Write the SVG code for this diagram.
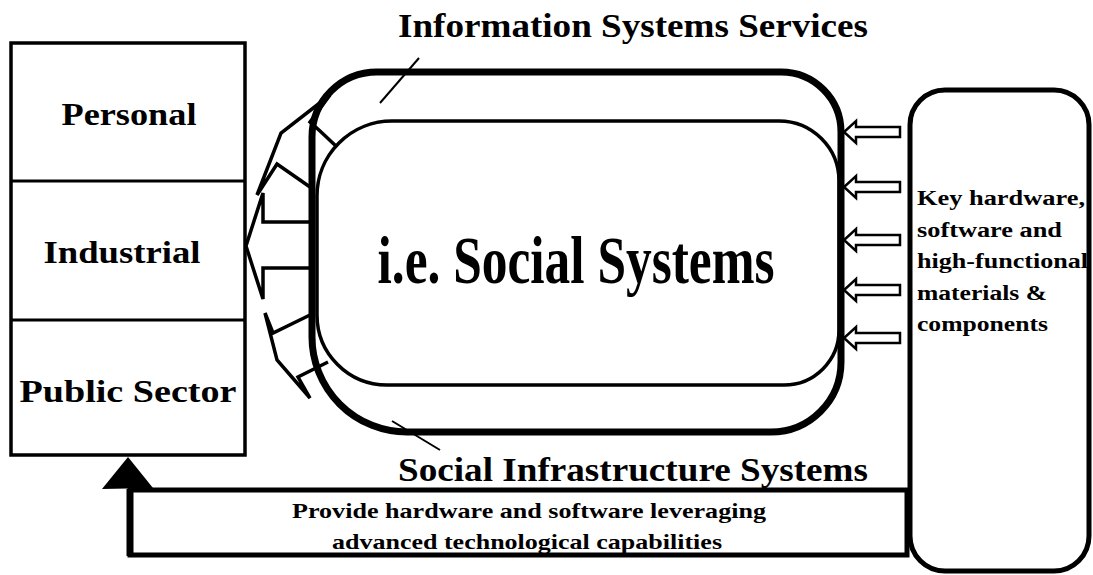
<svg xmlns="http://www.w3.org/2000/svg" width="1093" height="575" viewBox="0 0 1093 575">
  <style>
    text { font-family: "Liberation Serif", "Times New Roman", serif; font-weight: bold; fill: #000; }
    .ln { fill: none; stroke: #000; stroke-linejoin: miter; }
    .mid { text-anchor: middle; }
    .sector { font-size: 31px; }
    .title { font-size: 33px; }
    .key { font-size: 20px; }
    .note { font-size: 21px; }
  </style>
  <defs>
    <!-- small inbound block arrow, tip at origin pointing left -->
    <path id="inArrow" d="M56,-5 H12 V-11 L0,0 L12,11 V5 H56 Z" fill="#fff" stroke="#000" stroke-width="2.5"/>
  </defs>

  <rect width="1093" height="575" fill="#fff"/>

  <!-- connectors -->
  <g id="connectors">
    <!-- outbound fan of block arrows toward the sector column -->
    <polyline class="ln" stroke-width="3.5" points="310,222 263,222 263,193 246,246 263,299 263,268 310,268"/>
    <polyline class="ln" stroke-width="3.5" points="337,147 320,131 310,122 330,95 281,133 257,195 277,164 310,187"/>
    <polyline class="ln" stroke-width="3.5" points="310,315 273,333 265,313 277,360 310,398 298,377 328,362"/>
    <!-- inbound arrows from the key components column -->
    <use href="#inArrow" x="844" y="132"/>
    <use href="#inArrow" x="844" y="187"/>
    <use href="#inArrow" x="844" y="240"/>
    <use href="#inArrow" x="844" y="290"/>
    <use href="#inArrow" x="844" y="338"/>
    <!-- feedback loop to the sector column -->
    <rect class="ln" x="130" y="490" width="777" height="65" stroke-width="5"/>
    <line x1="130" y1="489" x2="130" y2="556" stroke="#000" stroke-width="7"/>
    <polygon points="128,457 102,489 153,488" fill="#000"/>
    <!-- label leaders -->
    <line x1="380" y1="103" x2="419" y2="58" stroke="#000" stroke-width="2"/>
    <line x1="392" y1="421" x2="440" y2="450" stroke="#000" stroke-width="2"/>
  </g>

  <!-- sector column -->
  <g id="sectors">
    <rect class="ln" x="11" y="43" width="234" height="412" stroke-width="3.5"/>
    <line x1="11" y1="181" x2="245" y2="181" stroke="#000" stroke-width="3"/>
    <line x1="11" y1="320" x2="245" y2="320" stroke="#000" stroke-width="3"/>
    <text class="sector mid" x="129" y="125" textLength="135" lengthAdjust="spacingAndGlyphs">Personal</text>
    <text class="sector mid" x="122" y="263" textLength="157" lengthAdjust="spacingAndGlyphs">Industrial</text>
    <text class="sector mid" x="128" y="402" textLength="217" lengthAdjust="spacingAndGlyphs">Public Sector</text>
  </g>

  <!-- information systems services / social infrastructure envelope -->
  <g id="social-systems">
    <path class="ln" stroke-width="7" d="M377,72 H781 A60,60 0 0 1 841,132 V362 A70,70 0 0 1 771,432 H407 A95,95 0 0 1 312,337 V137 A65,65 0 0 1 377,72 Z"/>
    <path class="ln" stroke-width="3.5" d="M392,121 H779 A60,60 0 0 1 839,181 V330 A55,55 0 0 1 784,385 H387 A70,70 0 0 1 317,315 V196 A75,75 0 0 1 392,121 Z"/>
    <text class="mid" x="576" y="283" font-size="67" textLength="397" lengthAdjust="spacingAndGlyphs">i.e. Social Systems</text>
    <text class="title mid" x="633" y="37" textLength="470" lengthAdjust="spacingAndGlyphs">Information Systems Services</text>
    <text class="title mid" x="633" y="481" textLength="470" lengthAdjust="spacingAndGlyphs">Social Infrastructure Systems</text>
  </g>

  <!-- key components column -->
  <g id="key-components">
    <rect class="ln" x="910" y="90" width="179" height="481" rx="35" ry="35" stroke-width="5"/>
    <text class="key" x="917" y="205" textLength="168" lengthAdjust="spacingAndGlyphs">Key hardware,</text>
    <text class="key" x="917" y="237" textLength="145" lengthAdjust="spacingAndGlyphs">software and</text>
    <text class="key" x="917" y="268" textLength="171" lengthAdjust="spacingAndGlyphs">high-functional</text>
    <text class="key" x="917" y="300" textLength="130" lengthAdjust="spacingAndGlyphs">materials &amp;</text>
    <text class="key" x="917" y="331" textLength="131" lengthAdjust="spacingAndGlyphs">components</text>
  </g>

  <!-- feedback loop label -->
  <g id="loop-label">
    <text class="note mid" x="529" y="518" textLength="474" lengthAdjust="spacingAndGlyphs">Provide hardware and software leveraging</text>
    <text class="note mid" x="527" y="549" textLength="390" lengthAdjust="spacingAndGlyphs">advanced technological capabilities</text>
  </g>
</svg>
